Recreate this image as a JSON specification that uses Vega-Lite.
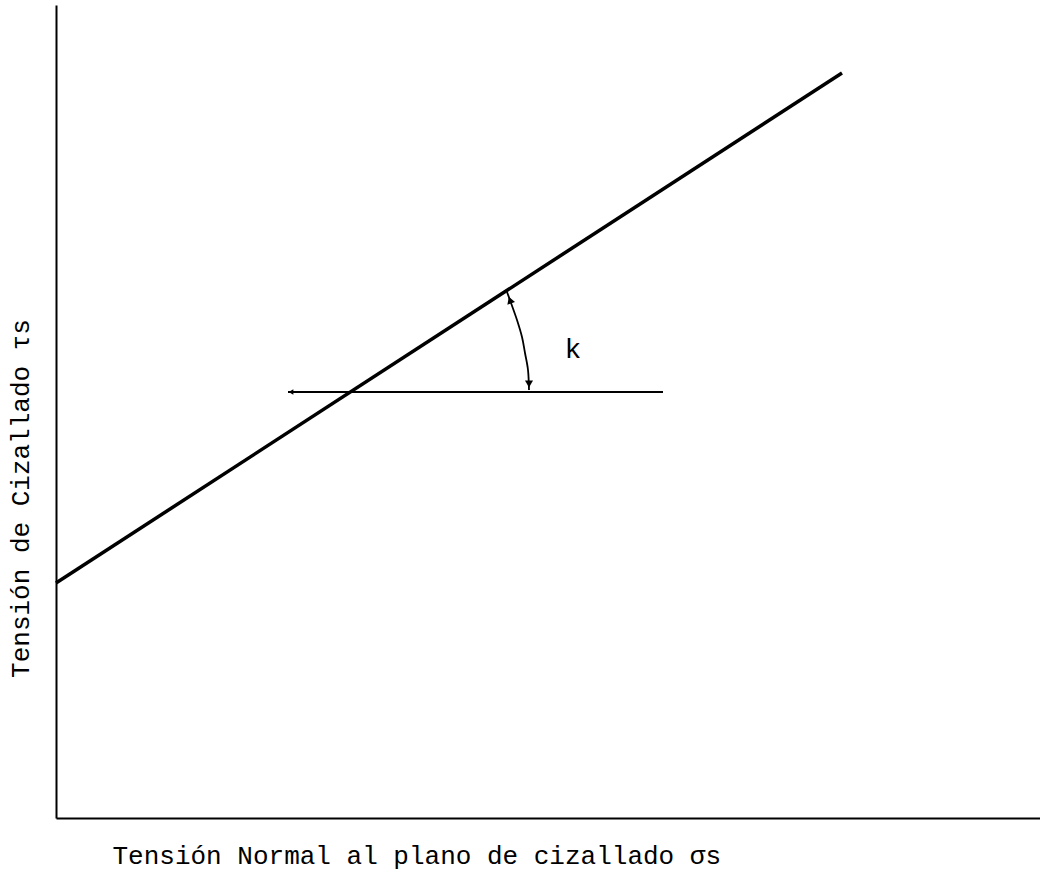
{
  "$schema": "https://vega.github.io/schema/vega-lite/v6.json",
  "width": 984,
  "height": 813,
  "autosize": {"type": "none"},
  "padding": {"left": 56, "top": 5, "right": 0, "bottom": 55},
  "background": "white",
  "config": {"view": {"stroke": null}},
  "datasets": {
    "main": [{"s": 0, "t": 235}, {"s": 786, "t": 745}],
    "horiz": [{"s": 232, "t": 426}, {"s": 607, "t": 426}],
    "arc": [
      {"s": 451, "t": 526, "o": 1},
      {"s": 455, "t": 515, "o": 2},
      {"s": 461, "t": 498, "o": 3},
      {"s": 466, "t": 481, "o": 4},
      {"s": 469, "t": 465, "o": 5},
      {"s": 472, "t": 448, "o": 6},
      {"s": 473, "t": 428, "o": 7}
    ],
    "arrowTop": [{"s": 454, "t": 518}],
    "arrowBottom": [{"s": 473, "t": 434}],
    "arrowLeft": [{"s": 235, "t": 426}],
    "label": [{"s": 517, "t": 468, "label": "k"}]
  },
  "encoding": {
    "x": {
      "field": "s", "type": "quantitative",
      "scale": {"domain": [0, 984], "nice": false, "zero": false},
      "axis": {
        "title": "Tensión Normal al plano de cizallado σs",
        "domain": true, "domainColor": "black", "domainWidth": 2,
        "ticks": false, "labels": false, "grid": false,
        "titleFont": "Liberation Mono", "titleFontSize": 26, "titleFontWeight": "normal",
        "titleColor": "black", "titleX": 56, "titleY": 45, "titleAlign": "left",
        "titleAnchor": "start", "titleBaseline": "alphabetic"
      }
    },
    "y": {
      "field": "t", "type": "quantitative",
      "scale": {"domain": [0, 813], "nice": false, "zero": false},
      "axis": {
        "title": "Tensión de Cizallado τs",
        "domain": true, "domainColor": "black", "domainWidth": 2,
        "ticks": false, "labels": false, "grid": false,
        "titleFont": "Liberation Mono", "titleFontSize": 26, "titleFontWeight": "normal",
        "titleColor": "black", "titleAngle": 270, "titleX": -28, "titleY": 493,
        "titleAlign": "center", "titleBaseline": "alphabetic"
      }
    }
  },
  "layer": [
    {"data": {"name": "main"}, "mark": {"type": "line", "color": "black", "strokeWidth": 3.5}},
    {"data": {"name": "horiz"}, "mark": {"type": "line", "color": "black", "strokeWidth": 2}},
    {"data": {"name": "arc"}, "mark": {"type": "line", "color": "black", "strokeWidth": 1.8, "interpolate": "cardinal"},
      "encoding": {"order": {"field": "o", "type": "quantitative"}}},
    {"data": {"name": "arrowTop"}, "mark": {"type": "point", "shape": "triangle-up", "filled": true, "color": "black", "opacity": 1, "size": 65, "angle": 340}},
    {"data": {"name": "arrowBottom"}, "mark": {"type": "point", "shape": "triangle-up", "filled": true, "color": "black", "opacity": 1, "size": 65, "angle": 180}},
    {"data": {"name": "arrowLeft"}, "mark": {"type": "point", "shape": "triangle-left", "filled": true, "color": "black", "opacity": 1, "size": 30}},
    {"data": {"name": "label"}, "mark": {"type": "text", "font": "Liberation Mono", "fontSize": 28, "color": "black", "align": "center", "baseline": "middle"},
      "encoding": {"text": {"field": "label", "type": "nominal"}}}
  ]
}
